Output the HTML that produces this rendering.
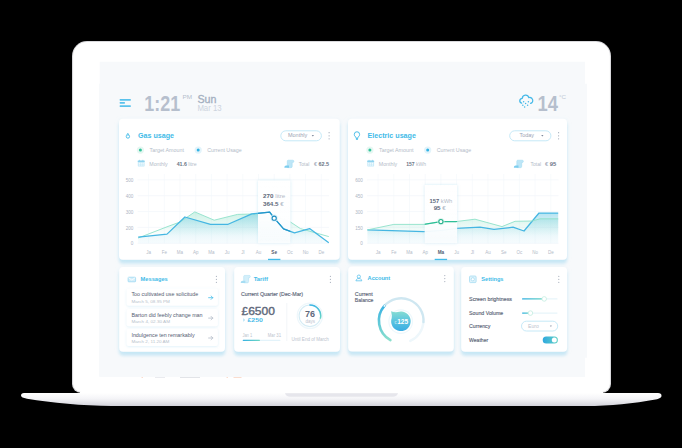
<!DOCTYPE html>
<html><head><meta charset="utf-8">
<style>
html,body{margin:0;padding:0;background:#000;width:682px;height:448px;overflow:hidden}
svg{display:block;font-family:"Liberation Sans",sans-serif}
</style></head>
<body>
<svg width="682" height="448" viewBox="0 0 682 448">
<defs>
<linearGradient id="baseG" x1="0" y1="0" x2="0" y2="1">
<stop offset="0" stop-color="#ffffff"/><stop offset="0.45" stop-color="#f4f4f7"/><stop offset="1" stop-color="#d3d3db"/>
</linearGradient>
<filter id="cardSh" x="-10%" y="-10%" width="120%" height="130%">
<feGaussianBlur in="SourceAlpha" stdDeviation="1.5" result="b1"/>
<feOffset in="b1" dy="4.3" result="o1"/>
<feFlood flood-color="#9bd6ef" flood-opacity="0.45"/>
<feComposite in2="o1" operator="in" result="s1"/>
<feGaussianBlur in="SourceAlpha" stdDeviation="2" result="b2a"/>
<feOffset in="b2a" dy="1.2" result="b2"/>
<feFlood flood-color="#a9dcf1" flood-opacity="0.26"/>
<feComposite in2="b2" operator="in" result="s2"/>
<feMerge><feMergeNode in="s2"/><feMergeNode in="s1"/><feMergeNode in="SourceGraphic"/></feMerge>
</filter>
<filter id="itemSh" x="-10%" y="-20%" width="120%" height="150%">
<feDropShadow dx="0" dy="0.8" stdDeviation="1" flood-color="#7ecbe8" flood-opacity="0.25"/>
</filter>
<linearGradient id="bfill" gradientUnits="userSpaceOnUse" x1="0" y1="208" x2="0" y2="244">
<stop offset="0" stop-color="#5cc3e0" stop-opacity="0.55"/><stop offset="0.55" stop-color="#7fd0e6" stop-opacity="0.24"/><stop offset="1" stop-color="#9fdcec" stop-opacity="0.08"/>
</linearGradient>
<linearGradient id="gfill" gradientUnits="userSpaceOnUse" x1="0" y1="208" x2="0" y2="236">
<stop offset="0" stop-color="#7fdcc0" stop-opacity="0.45"/><stop offset="1" stop-color="#7fdcc0" stop-opacity="0"/>
</linearGradient>
<linearGradient id="colG" x1="0" y1="0" x2="0" y2="1">
<stop offset="0" stop-color="#fff" stop-opacity="1"/><stop offset="0.6" stop-color="#fff" stop-opacity="0.97"/><stop offset="1" stop-color="#fff" stop-opacity="0.8"/>
</linearGradient>
<filter id="colSh" x="-30%" y="-10%" width="160%" height="120%">
<feDropShadow dx="0" dy="0" stdDeviation="1.6" flood-color="#9fd8ee" flood-opacity="0.5"/>
</filter>
<linearGradient id="progG" x1="0" y1="0" x2="1" y2="0"><stop offset="0" stop-color="#36b1e3"/><stop offset="1" stop-color="#6fd8c2"/></linearGradient>
<linearGradient id="ringG" x1="0" y1="0" x2="0" y2="1"><stop offset="0" stop-color="#3fb6e4"/><stop offset="1" stop-color="#67d5c4"/></linearGradient>
<linearGradient id="gaugeG" x1="0" y1="0" x2="0" y2="1"><stop offset="0" stop-color="#3ab3e3"/><stop offset="1" stop-color="#8adfcd"/></linearGradient>
<linearGradient id="bubG" x1="0" y1="0" x2="0" y2="1"><stop offset="0" stop-color="#86ddd2"/><stop offset="0.5" stop-color="#5ac4e0"/><stop offset="1" stop-color="#3aace2"/></linearGradient>
<linearGradient id="togG" x1="0" y1="0" x2="1" y2="0"><stop offset="0" stop-color="#2ea8df"/><stop offset="1" stop-color="#63d2c6"/></linearGradient>
</defs>
<rect width="682" height="448" fill="#000"/>
<!-- base -->
<path d="M24,393 L658,393 Q661.5,393 661.5,395.8 Q661.5,398.3 657,399.2 C632,403.6 612,405.8 585,406 L112,406 C82,405.8 52,403 27,398.8 Q21,397.8 21,395.6 Q21,393 24,393 Z" fill="url(#baseG)"/>
<path d="M285,393 L398,393 Q397,396.8 393,396.8 L290,396.8 Q286,396.8 285,393 Z" fill="#e6e6ec"/>
<!-- lid -->
<path d="M72,56 A15,15 0 0 1 87,41 L596,41 A15,15 0 0 1 611,56 L611,384 A9,9 0 0 1 602,393 L81,393 A9,9 0 0 1 72,384 Z" fill="#d9d9dc"/>
<path d="M73.1,56 A14,14 0 0 1 87,41.9 L596,41.9 A14,14 0 0 1 609.9,56 L609.9,384 A8,8 0 0 1 602,392 L81,392 A8,8 0 0 1 73.1,384 Z" fill="#ffffff"/>
<rect x="80" y="392" width="523" height="1.2" fill="#ffffff"/>
<!-- screen -->
<path d="M99.7,61.8 L585,61.8 L585,83.7 L587,83.7 L587,357.7 L585,357.7 L585,377 L100,377 Q99,377 99,376 L99,83.7 L99.7,83.7 Z" fill="#f7f9fb"/>
<g fill="#f2a07a" opacity="0.45"><rect x="141.5" y="377" width="1.5" height="0.8"/><rect x="226.5" y="377" width="1.5" height="0.8"/><rect x="233.5" y="377" width="8" height="0.8"/></g>
<g fill="#8a93a3" opacity="0.3"><rect x="180" y="377" width="20" height="0.8"/><rect x="155" y="377" width="10" height="0.6"/></g>

<!-- header -->
<g fill="#5bc2ec">
<rect x="119.6" y="99.1" width="11.3" height="1.6" rx="0.6"/>
<rect x="119.6" y="102.1" width="5.4" height="1.6" rx="0.6"/>
<rect x="119.6" y="105.3" width="11.3" height="1.6" rx="0.6"/>
</g>
<text x="144.3" y="111" font-size="22.2" font-weight="bold" fill="#b6bfcd" textLength="35.8" lengthAdjust="spacingAndGlyphs">1:21</text>
<text x="182.5" y="98.9" font-size="6.2" fill="#b6bfcd" textLength="9.6" lengthAdjust="spacingAndGlyphs">PM</text>
<text x="197.4" y="102.8" font-size="10.9" fill="#a3afc0" stroke="#a3afc0" stroke-width="0.3" textLength="19" lengthAdjust="spacingAndGlyphs">Sun</text>
<text x="197.4" y="110.8" font-size="8.7" fill="#cdd4de" textLength="24.2" lengthAdjust="spacingAndGlyphs">Mar 13</text>
<text x="537.5" y="110.8" font-size="22.8" font-weight="bold" fill="#b6bfcd" textLength="20.4" lengthAdjust="spacingAndGlyphs">14</text>
<text x="559" y="99.4" font-size="6.2" fill="#c2cad6" textLength="7" lengthAdjust="spacingAndGlyphs">°C</text>
<!-- cloud icon -->
<g fill="none" stroke="#45b9e8" stroke-width="1.3" stroke-linecap="round" stroke-linejoin="round">
<path d="M521.6,103.2 A2.5,2.5 0 0 1 522.3,98.3 A3.3,3.3 0 0 1 528.8,97.6 A2.9,2.9 0 0 1 530.6,103.4"/>
</g>
<g fill="#45b9e8">
<circle cx="523.6" cy="101.8" r="0.75"/><circle cx="528.4" cy="101.8" r="0.75"/><circle cx="525.6" cy="103.6" r="0.75"/>
<circle cx="522.8" cy="105.3" r="0.75"/><circle cx="527.6" cy="105.3" r="0.75"/><circle cx="524.6" cy="107.1" r="0.75"/>
</g>

<!-- cards -->
<g filter="url(#cardSh)" fill="#fff">
<rect x="119" y="118.8" width="220.7" height="141" rx="4"/>
<rect x="348" y="118.8" width="219" height="141" rx="4"/>
<rect x="119.2" y="267.1" width="105.8" height="84.6" rx="4"/>
<rect x="234.2" y="267.1" width="105.8" height="84.6" rx="4"/>
<rect x="348.2" y="266.5" width="105.6" height="84.9" rx="4"/>
<rect x="461.2" y="267.1" width="105.9" height="84.6" rx="4"/>
</g>
<!--TOP-->
<g transform="translate(0,0)"><g fill="none" stroke="#42bbe8" stroke-width="1.1" transform="translate(127.9,135.6) scale(0.85) translate(-127.95,-134.9)"><path d="M127.9,132.3 C127.2,133.6 126,134.3 126,136 A1.95,1.95 0 0 0 129.9,136 C129.9,134.9 129.3,134.3 128.8,133.7 C128.6,134.4 128.3,134.7 127.9,134.8 C128.2,134 128.2,133.2 127.9,132.3 Z"/></g>
<text x="138" y="137.8" font-size="7.4" font-weight="bold" fill="#42bbe8" textLength="36" lengthAdjust="spacingAndGlyphs">Gas usage</text>
<rect x="280.79999999999995" y="130.8" width="40.6" height="10" rx="5" fill="#fff" stroke="#bfe6f6" stroke-width="0.9"/>
<text x="287.99999999999994" y="137.4" font-size="5.6" fill="#9aa3b4" textLength="19.2" lengthAdjust="spacingAndGlyphs">Monthly</text>
<path d="M311.7,134.9 L314,134.9 L312.85,136.5 Z" fill="#7d8799"/>
<g fill="#a3abb9"><circle cx="329.1" cy="132.7" r="0.6"/><circle cx="329.1" cy="135.8" r="0.6"/><circle cx="329.1" cy="138.8" r="0.6"/></g>
<circle cx="140.4" cy="150.1" r="3.6" fill="#e6f7f2"/><circle cx="140.4" cy="150.1" r="1.5" fill="#34c39b"/>
<circle cx="198.2" cy="150.1" r="3.6" fill="#e3f4fb"/><circle cx="198.2" cy="150.1" r="1.5" fill="#34b3e4"/>
<text x="149.5" y="151.8" font-size="5.3" fill="#b3bbc8" textLength="34.4" lengthAdjust="spacingAndGlyphs">Target Amount</text>
<text x="207.2" y="151.8" font-size="5.3" fill="#b3bbc8" textLength="34.5" lengthAdjust="spacingAndGlyphs">Current Usage</text>
<g><rect x="137.8" y="160.6" width="6.8" height="5.8" rx="0.6" fill="#c5e9f8"/><rect x="137.8" y="160.6" width="6.8" height="1.4" fill="#8fd3ef"/><g fill="#fff"><rect x="138.7" y="162.8" width="1.2" height="1"/><rect x="140.6" y="162.8" width="1.2" height="1"/><rect x="142.5" y="162.8" width="1.2" height="1"/><rect x="138.7" y="164.5" width="1.2" height="1"/><rect x="140.6" y="164.5" width="1.2" height="1"/><rect x="142.5" y="164.5" width="1.2" height="1"/></g><rect x="139.2" y="159.8" width="0.7" height="1.6" fill="#8fd3ef"/><rect x="142.5" y="159.8" width="0.7" height="1.6" fill="#8fd3ef"/></g>
<text x="149.3" y="165.5" font-size="5.3" fill="#b3bbc8" textLength="18.4" lengthAdjust="spacingAndGlyphs">Monthly</text>
<text x="176.7" y="165.5" font-size="5.3" fill="#b3bbc8" textLength="20" lengthAdjust="spacingAndGlyphs"><tspan font-weight="bold" fill="#6b7586">41.6</tspan> litre</text>
<path d="M287.3,167.6 L287.3,161.2 Q287.3,160.2 288.3,160.2 L292.8,160.2 Q293.9,160.2 293.9,161.3 Q293.9,162.6 292.4,162.6 L292.2,162.6 L292.2,166.4 Q292.2,167.7 290.8,167.7 Z" fill="#bde6f7" stroke="#9ad8f1" stroke-width="0.5"/><path d="M284.3,167.8 Q284.3,165.6 286.2,165.6 L289,165.6 L289,167.8 Z" fill="#7ccdee"/>
<text x="298.8" y="165.8" font-size="5.3" fill="#b3bbc8" textLength="10.6" lengthAdjust="spacingAndGlyphs">Total</text>
<text x="313.90000000000003" y="165.8" font-size="5.5" fill="#6b7586" textLength="15.2" lengthAdjust="spacingAndGlyphs"><tspan font-weight="normal" fill="#9aa3b4">€</tspan><tspan font-weight="bold"> 62.5</tspan></text>
<g stroke="#eef4f8" stroke-width="0.6">
<line x1="137.6" y1="179.9" x2="329" y2="179.9"/>
<line x1="137.6" y1="195.7" x2="329" y2="195.7"/>
<line x1="137.6" y1="211.6" x2="329" y2="211.6"/>
<line x1="137.6" y1="227.4" x2="329" y2="227.4"/>
<line x1="137.6" y1="243.3" x2="329" y2="243.3"/>
</g><g stroke="#f2f7fa" stroke-width="0.6">
<line x1="148.6" y1="174" x2="148.6" y2="243.3"/>
<line x1="164.3" y1="174" x2="164.3" y2="243.3"/>
<line x1="180.0" y1="174" x2="180.0" y2="243.3"/>
<line x1="195.7" y1="174" x2="195.7" y2="243.3"/>
<line x1="211.4" y1="174" x2="211.4" y2="243.3"/>
<line x1="227.1" y1="174" x2="227.1" y2="243.3"/>
<line x1="242.8" y1="174" x2="242.8" y2="243.3"/>
<line x1="258.5" y1="174" x2="258.5" y2="243.3"/>
<line x1="274.2" y1="174" x2="274.2" y2="243.3"/>
<line x1="289.9" y1="174" x2="289.9" y2="243.3"/>
<line x1="305.6" y1="174" x2="305.6" y2="243.3"/>
<line x1="321.3" y1="174" x2="321.3" y2="243.3"/>
</g>
<text x="133.4" y="182.0" font-size="4.6" fill="#aeb6c4" text-anchor="end">500</text>
<text x="133.4" y="197.8" font-size="4.6" fill="#aeb6c4" text-anchor="end">400</text>
<text x="133.4" y="213.7" font-size="4.6" fill="#aeb6c4" text-anchor="end">300</text>
<text x="133.4" y="229.5" font-size="4.6" fill="#aeb6c4" text-anchor="end">200</text>
<text x="133.4" y="245.4" font-size="4.6" fill="#aeb6c4" text-anchor="end">0</text>
<text x="148.6" y="253.7" font-size="4.5" fill="#b3bbc8" text-anchor="middle">Ja</text>
<text x="164.3" y="253.7" font-size="4.5" fill="#b3bbc8" text-anchor="middle">Fe</text>
<text x="180.0" y="253.7" font-size="4.5" fill="#b3bbc8" text-anchor="middle">Ma</text>
<text x="195.7" y="253.7" font-size="4.5" fill="#b3bbc8" text-anchor="middle">Ap</text>
<text x="211.4" y="253.7" font-size="4.5" fill="#b3bbc8" text-anchor="middle">Ma</text>
<text x="227.1" y="253.7" font-size="4.5" fill="#b3bbc8" text-anchor="middle">Ju</text>
<text x="242.8" y="253.7" font-size="4.5" fill="#b3bbc8" text-anchor="middle">Jl</text>
<text x="258.5" y="253.7" font-size="4.5" fill="#b3bbc8" text-anchor="middle">Au</text>
<text x="274.2" y="253.7" font-size="4.7" font-weight="bold" fill="#566072" text-anchor="middle">Se</text>
<text x="289.9" y="253.7" font-size="4.5" fill="#b3bbc8" text-anchor="middle">Oc</text>
<text x="305.6" y="253.7" font-size="4.5" fill="#b3bbc8" text-anchor="middle">No</text>
<text x="321.3" y="253.7" font-size="4.5" fill="#b3bbc8" text-anchor="middle">De</text>
<rect x="268.0" y="258.8" width="12.4" height="1.3" fill="#42bbe8"/>
<polygon points="138.2,238.0 167.0,226.8 180.0,222.0 194.8,211.9 214.2,220.2 237.5,214.4 256.8,213.9 274.0,216.0 290.3,221.9 300.4,228.6 328.8,236.6 328.8,243.3 138.2,243.3" fill="url(#gfill)"/>
<polygon points="138.2,237.1 167.0,234.1 184.9,217.0 210.5,224.3 228.1,224.3 251.8,213.9 269.7,212.2 274.2,218.2 283.6,228.9 294.5,232.8 309.6,228.6 328.8,242.8 328.8,243.3 138.2,243.3" fill="url(#bfill)"/>
<clipPath id="clip0"><rect x="258.0" y="180.5" width="32.4" height="62.8"/></clipPath>
<polyline points="138.2,238.0 167.0,226.8 180.0,222.0 194.8,211.9 214.2,220.2 237.5,214.4 256.8,213.9 274.0,216.0 290.3,221.9 300.4,228.6 328.8,236.6" fill="none" stroke="#8fe1ca" stroke-width="0.9" stroke-linejoin="round"/>
<rect x="258.0" y="180.5" width="32.4" height="62.8" fill="url(#colG)" filter="url(#colSh)"/>
<polyline points="138.2,237.1 167.0,234.1 184.9,217.0 210.5,224.3 228.1,224.3 251.8,213.9 269.7,212.2 274.2,218.2 283.6,228.9 294.5,232.8 309.6,228.6 328.8,242.8" fill="none" stroke="#45b6e2" stroke-width="1.25" stroke-linejoin="round"/>
<g clip-path="url(#clip0)"><polyline points="138.2,237.1 167.0,234.1 184.9,217.0 210.5,224.3 228.1,224.3 251.8,213.9 269.7,212.2 274.2,218.2 283.6,228.9 294.5,232.8 309.6,228.6 328.8,242.8" fill="none" stroke="#2596c9" stroke-width="1.25" stroke-linejoin="round"/></g>
<circle cx="274.2" cy="218.2" r="3.6" fill="#d6eef8" opacity="0.8"/>
<circle cx="274.2" cy="218.2" r="2.1" fill="#fff" stroke="#1f8fc2" stroke-width="1.1"/>
<text x="274.2" y="198.3" font-size="5.6" fill="#b3bbc8" text-anchor="middle" textLength="22.3" lengthAdjust="spacingAndGlyphs"><tspan font-weight="bold" fill="#5d6779">270</tspan> litre</text>
<text x="273.3" y="205.5" font-size="5.8" font-weight="bold" fill="#5d6779" text-anchor="middle" textLength="20.7" lengthAdjust="spacingAndGlyphs">364.5<tspan font-weight="normal" fill="#aab3c1"> €</tspan></text></g>
<g transform="translate(229.5,0)"><g fill="none" stroke="#42bbe8" stroke-width="0.95" stroke-linejoin="round"><path d="M126.5,138.3 L126.5,137.3 C125.2,136.4 124.8,135.4 124.8,134.4 A2.65,2.65 0 0 1 130.1,134.4 C130.1,135.4 129.7,136.4 128.4,137.3 L128.4,138.3 Z"/></g><rect x="126.4" y="138.5" width="2.1" height="1.3" rx="0.4" fill="#42bbe8"/>
<text x="138" y="137.8" font-size="7.4" font-weight="bold" fill="#42bbe8" textLength="48.4" lengthAdjust="spacingAndGlyphs">Electric usage</text>
<rect x="280.2" y="130.8" width="41.2" height="10" rx="5" fill="#fff" stroke="#bfe6f6" stroke-width="0.9"/>
<text x="290.05" y="137.4" font-size="5.6" fill="#9aa3b4" textLength="14.5" lengthAdjust="spacingAndGlyphs">Today</text>
<path d="M311.7,134.9 L314,134.9 L312.85,136.5 Z" fill="#7d8799"/>
<g fill="#a3abb9"><circle cx="329.1" cy="132.7" r="0.6"/><circle cx="329.1" cy="135.8" r="0.6"/><circle cx="329.1" cy="138.8" r="0.6"/></g>
<circle cx="140.4" cy="150.1" r="3.6" fill="#e6f7f2"/><circle cx="140.4" cy="150.1" r="1.5" fill="#34c39b"/>
<circle cx="198.2" cy="150.1" r="3.6" fill="#e3f4fb"/><circle cx="198.2" cy="150.1" r="1.5" fill="#34b3e4"/>
<text x="149.5" y="151.8" font-size="5.3" fill="#b3bbc8" textLength="34.4" lengthAdjust="spacingAndGlyphs">Target Amount</text>
<text x="207.2" y="151.8" font-size="5.3" fill="#b3bbc8" textLength="34.5" lengthAdjust="spacingAndGlyphs">Current Usage</text>
<g><rect x="137.8" y="160.6" width="6.8" height="5.8" rx="0.6" fill="#c5e9f8"/><rect x="137.8" y="160.6" width="6.8" height="1.4" fill="#8fd3ef"/><g fill="#fff"><rect x="138.7" y="162.8" width="1.2" height="1"/><rect x="140.6" y="162.8" width="1.2" height="1"/><rect x="142.5" y="162.8" width="1.2" height="1"/><rect x="138.7" y="164.5" width="1.2" height="1"/><rect x="140.6" y="164.5" width="1.2" height="1"/><rect x="142.5" y="164.5" width="1.2" height="1"/></g><rect x="139.2" y="159.8" width="0.7" height="1.6" fill="#8fd3ef"/><rect x="142.5" y="159.8" width="0.7" height="1.6" fill="#8fd3ef"/></g>
<text x="149.3" y="165.5" font-size="5.3" fill="#b3bbc8" textLength="18.4" lengthAdjust="spacingAndGlyphs">Monthly</text>
<text x="176.7" y="165.5" font-size="5.3" fill="#b3bbc8" textLength="19.9" lengthAdjust="spacingAndGlyphs"><tspan font-weight="bold" fill="#6b7586">157</tspan> kWh</text>
<path d="M287.3,167.6 L287.3,161.2 Q287.3,160.2 288.3,160.2 L292.8,160.2 Q293.9,160.2 293.9,161.3 Q293.9,162.6 292.4,162.6 L292.2,162.6 L292.2,166.4 Q292.2,167.7 290.8,167.7 Z" fill="#bde6f7" stroke="#9ad8f1" stroke-width="0.5"/><path d="M284.3,167.8 Q284.3,165.6 286.2,165.6 L289,165.6 L289,167.8 Z" fill="#7ccdee"/>
<text x="301" y="165.8" font-size="5.3" fill="#b3bbc8" textLength="10.6" lengthAdjust="spacingAndGlyphs">Total</text>
<text x="315.5" y="165.8" font-size="5.5" fill="#6b7586" textLength="11.3" lengthAdjust="spacingAndGlyphs"><tspan font-weight="normal" fill="#9aa3b4">€</tspan><tspan font-weight="bold"> 95</tspan></text>
<g stroke="#eef4f8" stroke-width="0.6">
<line x1="137.6" y1="179.9" x2="329" y2="179.9"/>
<line x1="137.6" y1="195.7" x2="329" y2="195.7"/>
<line x1="137.6" y1="211.6" x2="329" y2="211.6"/>
<line x1="137.6" y1="227.4" x2="329" y2="227.4"/>
<line x1="137.6" y1="243.3" x2="329" y2="243.3"/>
</g><g stroke="#f2f7fa" stroke-width="0.6">
<line x1="148.6" y1="174" x2="148.6" y2="243.3"/>
<line x1="164.3" y1="174" x2="164.3" y2="243.3"/>
<line x1="180.0" y1="174" x2="180.0" y2="243.3"/>
<line x1="195.7" y1="174" x2="195.7" y2="243.3"/>
<line x1="211.4" y1="174" x2="211.4" y2="243.3"/>
<line x1="227.1" y1="174" x2="227.1" y2="243.3"/>
<line x1="242.8" y1="174" x2="242.8" y2="243.3"/>
<line x1="258.5" y1="174" x2="258.5" y2="243.3"/>
<line x1="274.2" y1="174" x2="274.2" y2="243.3"/>
<line x1="289.9" y1="174" x2="289.9" y2="243.3"/>
<line x1="305.6" y1="174" x2="305.6" y2="243.3"/>
<line x1="321.3" y1="174" x2="321.3" y2="243.3"/>
</g>
<text x="133.4" y="182.0" font-size="4.6" fill="#aeb6c4" text-anchor="end">600</text>
<text x="133.4" y="197.8" font-size="4.6" fill="#aeb6c4" text-anchor="end">450</text>
<text x="133.4" y="213.7" font-size="4.6" fill="#aeb6c4" text-anchor="end">300</text>
<text x="133.4" y="229.5" font-size="4.6" fill="#aeb6c4" text-anchor="end">150</text>
<text x="133.4" y="245.4" font-size="4.6" fill="#aeb6c4" text-anchor="end">0</text>
<text x="148.6" y="253.7" font-size="4.5" fill="#b3bbc8" text-anchor="middle">Ja</text>
<text x="164.3" y="253.7" font-size="4.5" fill="#b3bbc8" text-anchor="middle">Fe</text>
<text x="180.0" y="253.7" font-size="4.5" fill="#b3bbc8" text-anchor="middle">Ma</text>
<text x="195.7" y="253.7" font-size="4.5" fill="#b3bbc8" text-anchor="middle">Ap</text>
<text x="211.4" y="253.7" font-size="4.7" font-weight="bold" fill="#566072" text-anchor="middle">Ma</text>
<text x="227.1" y="253.7" font-size="4.5" fill="#b3bbc8" text-anchor="middle">Ju</text>
<text x="242.8" y="253.7" font-size="4.5" fill="#b3bbc8" text-anchor="middle">Jl</text>
<text x="258.5" y="253.7" font-size="4.5" fill="#b3bbc8" text-anchor="middle">Au</text>
<text x="274.2" y="253.7" font-size="4.5" fill="#b3bbc8" text-anchor="middle">Se</text>
<text x="289.9" y="253.7" font-size="4.5" fill="#b3bbc8" text-anchor="middle">Oc</text>
<text x="305.6" y="253.7" font-size="4.5" fill="#b3bbc8" text-anchor="middle">No</text>
<text x="321.3" y="253.7" font-size="4.5" fill="#b3bbc8" text-anchor="middle">De</text>
<rect x="205.2" y="258.8" width="12.4" height="1.3" fill="#42bbe8"/>
<polygon points="137.9,229.9 164.3,224.4 194.5,224.4 211.4,221.6 226.3,221.6 245.5,219.2 272.5,226.6 285.5,221.3 302.5,221.0 310.5,218.8 328.7,218.8 328.7,243.3 137.9,243.3" fill="url(#gfill)"/>
<polygon points="137.9,229.9 194.5,231.6 210.5,230.5 227.1,228.3 250.5,227.2 264.5,229.4 283.5,227.2 294.5,231.0 309.5,213.0 328.7,213.0 328.7,243.3 137.9,243.3" fill="url(#bfill)"/>
<clipPath id="clip229"><rect x="195.2" y="185" width="32.4" height="58.3"/></clipPath>
<polyline points="137.9,229.9 194.5,231.6 210.5,230.5 227.1,228.3 250.5,227.2 264.5,229.4 283.5,227.2 294.5,231.0 309.5,213.0 328.7,213.0" fill="none" stroke="#45b6e2" stroke-width="1.25" stroke-linejoin="round"/>
<rect x="195.2" y="185" width="32.4" height="58.3" fill="url(#colG)" filter="url(#colSh)"/>
<polyline points="137.9,229.9 164.3,224.4 194.5,224.4 211.4,221.6 226.3,221.6 245.5,219.2 272.5,226.6 285.5,221.3 302.5,221.0 310.5,218.8 328.7,218.8" fill="none" stroke="#8fe1ca" stroke-width="0.9" stroke-linejoin="round"/>
<g clip-path="url(#clip229)"><polyline points="137.9,229.9 164.3,224.4 194.5,224.4 211.4,221.6 226.3,221.6 245.5,219.2 272.5,226.6 285.5,221.3 302.5,221.0 310.5,218.8 328.7,218.8" fill="none" stroke="#2fbf97" stroke-width="1.2" stroke-linejoin="round"/></g>
<circle cx="211.39999999999998" cy="221.6" r="3.6" fill="#d6f3ea" opacity="0.8"/>
<circle cx="211.39999999999998" cy="221.6" r="2.1" fill="#fff" stroke="#22b08a" stroke-width="1.1"/>
<text x="211.4" y="202.8" font-size="5.6" fill="#b3bbc8" text-anchor="middle" textLength="22.9" lengthAdjust="spacingAndGlyphs"><tspan font-weight="bold" fill="#5d6779">157</tspan> kWh</text>
<text x="210.2" y="210.0" font-size="5.8" font-weight="bold" fill="#5d6779" text-anchor="middle" textLength="12.1" lengthAdjust="spacingAndGlyphs">95<tspan font-weight="normal" fill="#aab3c1"> €</tspan></text></g>
<!--/TOP-->
<!--BOT-->
<g><rect x="128.1" y="277.2" width="7.5" height="4.6" rx="0.6" fill="#d3eefa" stroke="#93d5f0" stroke-width="0.7"/><path d="M128.5,277.7 L131.85,280.1 L135.2,277.7" fill="none" stroke="#fff" stroke-width="0.8"/></g>
<text x="140.6" y="281.2" font-size="6.1" fill="#42bbe8" font-weight="bold" textLength="27.2" lengthAdjust="spacingAndGlyphs">Messages</text>
<g fill="#a3abb9"><circle cx="216.4" cy="276.3" r="0.6"/><circle cx="216.4" cy="279.3" r="0.6"/><circle cx="216.4" cy="282.3" r="0.6"/></g>
<g filter="url(#itemSh)" fill="#fff">
<rect x="126.6" y="288.5" width="91.3" height="17.3" rx="2"/>
<rect x="126.6" y="308.9" width="91.3" height="17.3" rx="2"/>
<rect x="126.6" y="328.8" width="91.3" height="17.3" rx="2"/>
</g>
<text x="131.4" y="296.3" font-size="5.9" fill="#566072" textLength="66.9" lengthAdjust="spacingAndGlyphs">Too cultivated use solicitude</text>
<text x="131.4" y="302.6" font-size="4.4" fill="#b7bfcb" textLength="38.4" lengthAdjust="spacingAndGlyphs">March 5, 08.95 PM</text>
<g fill="none" stroke="#42bbe8" stroke-width="0.8" stroke-linecap="round" stroke-linejoin="round"><path d="M208.6,297.7 L212.8,297.7 M211.1,296.0 L212.8,297.7 L211.1,299.4"/></g>
<text x="131.4" y="316.7" font-size="5.9" fill="#566072" textLength="71.2" lengthAdjust="spacingAndGlyphs">Barton did feebly change man</text>
<text x="131.4" y="323.0" font-size="4.4" fill="#b7bfcb" textLength="38.6" lengthAdjust="spacingAndGlyphs">March 4, 02.30 AM</text>
<g fill="none" stroke="#b3bbc8" stroke-width="0.8" stroke-linecap="round" stroke-linejoin="round"><path d="M208.6,318.1 L212.8,318.1 M211.1,316.4 L212.8,318.1 L211.1,319.8"/></g>
<text x="131.4" y="336.6" font-size="5.9" fill="#566072" textLength="63.3" lengthAdjust="spacingAndGlyphs">Indulgence ten remarkably</text>
<text x="131.4" y="342.90000000000003" font-size="4.4" fill="#b7bfcb" textLength="38.0" lengthAdjust="spacingAndGlyphs">March 2, 11.20 AM</text>
<g fill="none" stroke="#b3bbc8" stroke-width="0.8" stroke-linecap="round" stroke-linejoin="round"><path d="M208.6,338.0 L212.8,338.0 M211.1,336.3 L212.8,338.0 L211.1,339.7"/></g>
<g transform="translate(-43.6,115.2)"><path d="M287.3,167.6 L287.3,161.2 Q287.3,160.2 288.3,160.2 L292.8,160.2 Q293.9,160.2 293.9,161.3 Q293.9,162.6 292.4,162.6 L292.2,162.6 L292.2,166.4 Q292.2,167.7 290.8,167.7 Z" fill="#d3effa" stroke="#a6ddf3" stroke-width="0.5"/><path d="M284.3,167.8 Q284.3,165.6 286.2,165.6 L289,165.6 L289,167.8 Z" fill="#a6ddf3"/></g>
<text x="253.7" y="280.9" font-size="6.0" fill="#42bbe8" font-weight="bold" textLength="14.2" lengthAdjust="spacingAndGlyphs">Tariff</text>
<g fill="#a3abb9"><circle cx="330.4" cy="276.3" r="0.6"/><circle cx="330.4" cy="279.3" r="0.6"/><circle cx="330.4" cy="282.3" r="0.6"/></g>
<text x="240.9" y="296.1" font-size="5.7" fill="#5c6678" textLength="62.2" lengthAdjust="spacingAndGlyphs" stroke="#5c6678" stroke-width="0.15">Current Quarter (Dec-Mar)</text>
<text x="241.5" y="315" font-size="11.6" fill="#5f697b" textLength="33.4" lengthAdjust="spacingAndGlyphs" stroke="#5f697b" stroke-width="0.4">£6500</text>
<path d="M243,318.8 L244.6,320 L243,321.2" fill="none" stroke="#6cc6ec" stroke-width="0.6"/>
<text x="247.5" y="322" font-size="6.0" fill="#4bbbe8" font-weight="bold" textLength="15.4" lengthAdjust="spacingAndGlyphs">£250</text>
<text x="242.4" y="336.7" font-size="4.6" fill="#bcc3ce" textLength="9.8" lengthAdjust="spacingAndGlyphs">Jan 1</text>
<text x="281" y="336.7" font-size="4.6" fill="#bcc3ce" text-anchor="end" textLength="13.2" lengthAdjust="spacingAndGlyphs">Mar 31</text>
<rect x="242.7" y="339.7" width="37.8" height="1.2" rx="0.6" fill="#e3f3fa"/>
<rect x="242.7" y="339.7" width="17.3" height="1.2" rx="0.6" fill="url(#progG)"/>
<line x1="286.8" y1="303" x2="286.8" y2="341" stroke="#eef1f5" stroke-width="0.7"/>
<circle cx="309.9" cy="315.8" r="12.7" fill="none" stroke="#eef7fb" stroke-width="1.2"/>
<circle cx="309.9" cy="315.8" r="10.8" fill="none" stroke="#d5ecf5" stroke-width="1.1"/>
<path d="M309.90,305.00 A10.8,10.8 0 0 1 320.46,318.05" fill="none" stroke="url(#ringG)" stroke-width="1.5" stroke-linecap="round"/>
<text x="310.1" y="317.2" font-size="8.2" fill="#5f697b" font-weight="bold" text-anchor="middle" textLength="10" lengthAdjust="spacingAndGlyphs">76</text>
<text x="310.3" y="322.6" font-size="4.5" fill="#bcc3ce" text-anchor="middle">days</text>
<text x="291.5" y="341" font-size="4.6" fill="#bcc3ce" textLength="37.4" lengthAdjust="spacingAndGlyphs">Until End of March</text>
<g fill="none" stroke="#5cc2ec" stroke-width="0.8"><circle cx="358.85" cy="276.6" r="1.6"/><path d="M355.9,280.8 L356.6,279.4 Q357,278.6 358,278.6 L359.7,278.6 Q360.7,278.6 361.1,279.4 L361.8,280.8 Z"/></g>
<text x="367.6" y="280.1" font-size="6.0" fill="#42bbe8" font-weight="bold" textLength="22.6" lengthAdjust="spacingAndGlyphs">Account</text>
<g fill="#a3abb9"><circle cx="444.8" cy="275.6" r="0.6"/><circle cx="444.8" cy="278.6" r="0.6"/><circle cx="444.8" cy="281.6" r="0.6"/></g>
<text x="354.8" y="295.8" font-size="5.5" fill="#5c6678" textLength="17.9" lengthAdjust="spacingAndGlyphs" stroke="#5c6678" stroke-width="0.15">Current</text>
<text x="354.8" y="302.2" font-size="5.5" fill="#5c6678" textLength="18.5" lengthAdjust="spacingAndGlyphs" stroke="#5c6678" stroke-width="0.15">Balance</text>
<path d="M423.45,322.16 A22.3,22.3 0 0 1 410.27,340.97" fill="none" stroke="#eef7fb" stroke-width="2.4" stroke-linecap="round"/>
<path d="M384.37,305.97 A22.3,22.3 0 0 1 423.45,322.16" fill="none" stroke="#cfe7f1" stroke-width="2.4" stroke-linecap="round"/>
<path d="M390.39,340.10 A22.3,22.3 0 0 1 384.37,305.97" fill="none" stroke="url(#gaugeG)" stroke-width="2.6" stroke-linecap="round"/>
<circle cx="384.37" cy="305.97" r="0.9" fill="#fff"/>
<circle cx="400.7" cy="321.6" r="12.4" fill="#eef8fc"/>
<circle cx="400.7" cy="321.6" r="11.2" fill="#fff"/>
<path d="M391,311.2 Q394.6,312.6 397.55,312.1 A9.8,9.8 0 1 1 391.7,317.95 Q392.3,314.8 391,311.2 Z" fill="url(#bubG)"/>
<text x="394.2" y="323.5" font-size="4.4" fill="#e6f7fb">€</text>
<text x="397.2" y="323.5" font-size="6.6" fill="#fff" font-weight="bold" textLength="10.9" lengthAdjust="spacingAndGlyphs">125</text>
<g stroke="#a6dcf2" stroke-width="0.8"><rect x="469.5" y="276" width="6.6" height="6.6" rx="1" fill="#dff3fb"/><circle cx="472.8" cy="279.3" r="1.6" fill="#fff"/></g>
<text x="481.3" y="280.8" font-size="6.0" fill="#42bbe8" font-weight="bold" textLength="22.2" lengthAdjust="spacingAndGlyphs">Settings</text>
<g fill="#a3abb9"><circle cx="558.8" cy="276.3" r="0.6"/><circle cx="558.8" cy="279.3" r="0.6"/><circle cx="558.8" cy="282.3" r="0.6"/></g>
<text x="469.1" y="300.6" font-size="5.5" fill="#5c6678" textLength="42.9" lengthAdjust="spacingAndGlyphs" stroke="#5c6678" stroke-width="0.15">Screen brightness</text>
<text x="469.1" y="314.7" font-size="5.5" fill="#5c6678" textLength="34.1" lengthAdjust="spacingAndGlyphs" stroke="#5c6678" stroke-width="0.15">Sound Volume</text>
<text x="469.1" y="328.4" font-size="5.5" fill="#5c6678" textLength="21.2" lengthAdjust="spacingAndGlyphs" stroke="#5c6678" stroke-width="0.15">Currency</text>
<text x="469.1" y="342.3" font-size="5.5" fill="#5c6678" textLength="19.1" lengthAdjust="spacingAndGlyphs" stroke="#5c6678" stroke-width="0.15">Weather</text>
<rect x="522" y="298.29999999999995" width="35.6" height="1.2" rx="0.6" fill="#e8f5fa"/>
<rect x="522" y="298.25" width="22.200000000000045" height="1.3" rx="0.65" fill="url(#progG)"/>
<circle cx="544.2" cy="298.9" r="2.3" fill="#fff" stroke="#c3eee0" stroke-width="0.8"/>
<rect x="522" y="312.5" width="35.6" height="1.2" rx="0.6" fill="#e8f5fa"/>
<rect x="522" y="312.45000000000005" width="8.399999999999977" height="1.3" rx="0.65" fill="url(#progG)"/>
<circle cx="530.4" cy="313.1" r="2.3" fill="#fff" stroke="#c3eee0" stroke-width="0.8"/>
<rect x="521.5" y="321.2" width="36.2" height="9.8" rx="4.9" fill="#fff" stroke="#bfe6f6" stroke-width="0.9"/>
<text x="528" y="327.9" font-size="5.5" fill="#bcc3ce" textLength="10.8" lengthAdjust="spacingAndGlyphs">Euro</text>
<path d="M549.9,325.6 L551.9,325.6 L550.9,327 Z" fill="#8d96a6"/>
<rect x="542.7" y="336.6" width="15.2" height="7" rx="3.5" fill="url(#togG)"/>
<circle cx="554.3" cy="340.1" r="2.5" fill="#fff"/>
<!--/BOT-->
</svg>
</body></html>
